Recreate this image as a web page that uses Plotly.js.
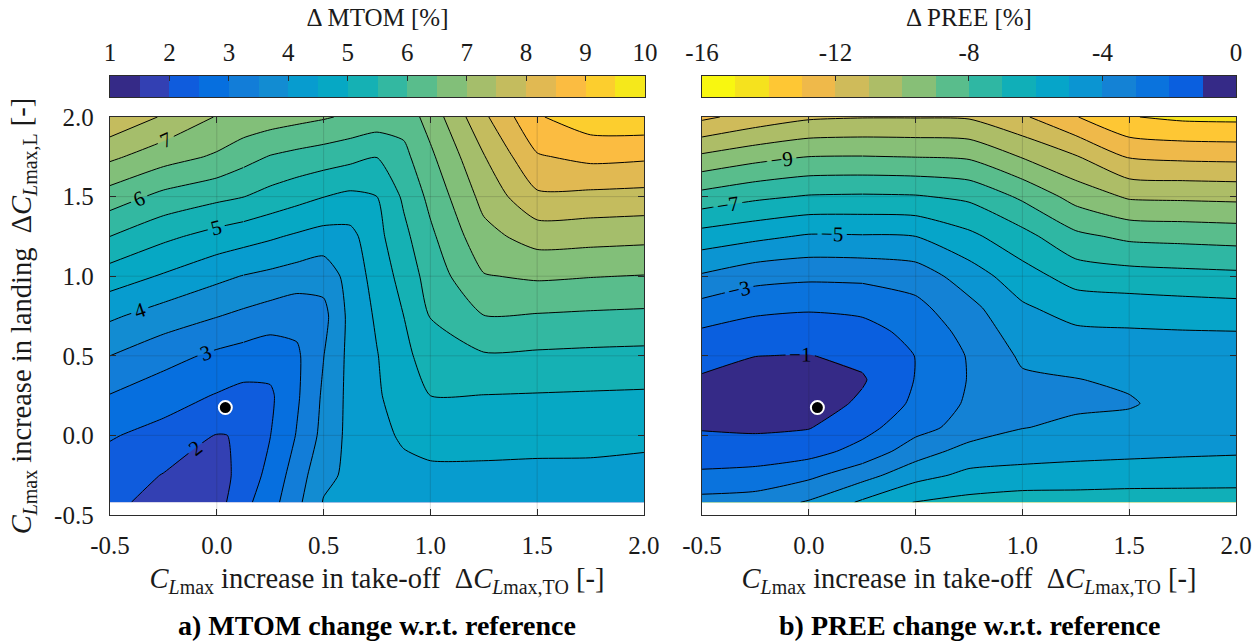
<!DOCTYPE html>
<html><head><meta charset="utf-8">
<script src="https://cdn.plot.ly/plotly-3.0.1.min.js"></script>
<style>html,body{margin:0;padding:0;background:#fff}</style>
</head><body><div id="chart" style="width:1260px;height:643px"></div>
<script>
// ---------- data: a) MTOM change [%] ----------
const mtomX = [-0.5,-0.25,0,0.125,0.25,0.375,0.5,0.625,0.75,0.875,1.0,1.25,1.5,1.75,2.0];
const mtomY = [-0.42,-0.25,0,0.25,0.5,0.75,1.0,1.25,1.5,1.75,2.0];
const mtomZ = [
  [2.1, 1.85, 1.8, 2.35, 2.8, 3.37, 4.03, 4.1, 4.2, 4.3, 4.35, 4.35, 4.35, 4.35, 4.35],
  [2.27, 1.98, 1.8, 2.17, 2.66, 3.24, 3.88, 4.1, 4.25, 4.4, 4.42, 4.42, 4.42, 4.43, 4.42],
  [2.54, 2.34, 1.98, 2.03, 2.49, 3.03, 3.65, 4.15, 4.4, 4.55, 4.64, 4.64, 4.61, 4.59, 4.56],
  [2.98, 2.71, 2.47, 2.35, 2.42, 2.93, 3.58, 4.15, 4.45, 4.70, 5.0, 4.99, 4.97, 4.95, 4.93],
  [3.5, 3.18, 2.90, 2.80, 2.71, 2.92, 3.49, 4.15, 4.48, 4.85, 5.27, 5.45, 5.42, 5.39, 5.37],
  [4.08, 3.77, 3.52, 3.39, 3.26, 3.15, 3.35, 4.15, 4.57, 5.0, 5.52, 5.99, 5.96, 5.92, 5.89],
  [4.76, 4.45, 4.12, 3.98, 3.88, 3.77, 3.68, 4.2, 4.7, 5.18, 5.71, 6.47, 6.57, 6.52, 6.48],
  [5.5, 5.11, 4.82, 4.70, 4.57, 4.43, 4.31, 4.35, 4.85, 5.37, 5.90, 6.84, 7.21, 7.18, 7.14],
  [6.27, 5.86, 5.62, 5.51, 5.33, 5.17, 5.01, 4.89, 5.0, 5.58, 6.13, 7.16, 7.91, 7.87, 7.83],
  [7.1, 6.71, 6.43, 6.18, 5.97, 5.85, 5.75, 5.64, 5.51, 5.86, 6.40, 7.47, 8.45, 8.63, 8.58],
  [7.9, 7.45, 6.97, 6.85, 6.75, 6.65, 6.55, 6.42, 6.3, 6.2, 6.7, 7.9, 8.95, 9.3, 9.35]
];
const mtomLevels = [1,1.5,2,2.5,3,3.5,4,4.5,5,5.5,6,6.5,7,7.5,8,8.5,9,9.5,10];
// ---------- data: b) PREE change [%] (one list per take-off column) ----------
const preeX = [-0.5,-0.25,0,0.25,0.5,0.75,1.0,1.25,1.5,1.75,2.0];
const preeY = [-0.42,-0.25,-0.1,0.05,0.2,0.35,0.5,0.65,0.8,1.0,1.25,1.5,1.75,2.0];
const preeCols = [
  [-3.35,-2.17,-1.49,-0.92,-0.7,-0.88,-1.35,-1.88,-2.62,-3.88,-5.57,-7.64,-9.81,-12.2],
  [-3.45,-2.33,-1.43,-0.85,-0.55,-0.7,-1.01,-1.58,-2.22,-3.35,-5.23,-7.2,-9.33,-11.6],
  [-4.1,-2.77,-1.63,-0.95,-0.5,-0.55,-0.97,-1.51,-2.1,-3.2,-4.89,-6.92,-8.99,-11.15],
  [-5.15,-3.62,-2.34,-1.65,-1.17,-0.9,-1.23,-1.68,-2.2,-3.23,-4.92,-6.87,-8.96,-11.05],
  [-6.05,-4.63,-3.53,-2.64,-2.19,-2.04,-2.02,-2.26,-2.71,-3.45,-5.0,-6.92,-9.02,-11.05],
  [-6.3,-5.24,-4.38,-3.4,-3.15,-3.05,-3.08,-3.36,-3.71,-4.49,-5.77,-7.2,-9.13,-11.1],
  [-6.5,-5.34,-4.59,-3.97,-3.75,-3.85,-4.16,-4.5,-4.85,-5.58,-6.66,-8.18,-10.06,-11.85],
  [-6.5,-5.4,-4.71,-4.18,-3.85,-3.97,-4.4,-4.83,-5.43,-6.41,-7.77,-9.37,-10.92,-12.95],
  [-6.55,-5.46,-4.78,-4.35,-3.9,-4.16,-4.53,-4.9,-5.51,-6.58,-8.21,-10.13,-12.08,-13.95],
  [-6.55,-5.49,-4.85,-4.55,-4.4,-4.45,-4.7,-4.95,-5.6,-6.68,-8.3,-10.19,-12.21,-14.2],
  [-6.55,-5.52,-4.9,-4.65,-4.5,-4.55,-4.75,-4.98,-5.68,-6.76,-8.39,-10.25,-12.26,-14.25]
];
const preeLevels = [-16,-15,-14,-13,-12,-11,-10,-9,-8,-7,-6,-5,-4,-3,-2,-1,0];
// reference configuration marker
const refX = [0.04];
const refY = [0.175];
// ticks
const axisTickVals = [-0.5, 0, 0.5, 1.0, 1.5, 2.0];
const axisTickText = ['-0.5', '0.0', '0.5', '1.0', '1.5', '2.0'];
const gridVals = [0, 0.5, 1.0, 1.5];
const mtomTickVals = [1,2,3,4,5,6,7,8,9,10];
const mtomTickText = ['1','2','3','4','5','6','7','8','9','10'];
const preeTickVals = [-16,-12,-8,-4,0];
const preeTickText = ['-16','-12','-8','-4','0'];

// ---------- styling ----------
const FONT = '"Liberation Serif", "Times New Roman", serif';
const INK = '#1a1a1a';
const AX = '#2b2b2b';
const mtomColors = ['#352a87','#3340b3','#0f5cdd','#066fdf','#127dd8','#128cd2','#079ccf','#06a8c4','#15b1b4',
  '#33b8a1','#59bd8c','#82bf79','#a5be6b','#c4bc5e','#e1b952','#fbbc41','#fcce2e','#f5e81b'];
const preeColors = ['#f8f710','#f5e21e','#fec734','#efb94a','#cfbb5a','#adbd67','#87bf77','#59bd8c',
  '#2fb7a3','#10afb8','#06a5c9','#0b95d2','#1482d5','#0a73dd','#0a5fdf','#352a87'];
function bandScale(cols){
  const n = cols.length, s = [[0, cols[0]]];
  cols.forEach((c,i)=> s.push([(i+0.5)/n, c]));
  s.push([1, cols[n-1]]);
  return s;
}
const preeZ = preeY.map((_, j) => preeCols.map(col => col[j]));
// sub-grids: the labelled lines are drawn only where the reference prints labels
const sliceCols = (z, a, b) => z.map(r => r.slice(a, b));
const mtomLabX = mtomX.slice(0, 4), mtomLabZ = sliceCols(mtomZ, 0, 4);
const mtomRestX = mtomX.slice(3),  mtomRestZ = sliceCols(mtomZ, 3);
const preeLabX = preeX.slice(0, 4), preeLabY = preeY.slice(5), preeLabZ = sliceCols(preeZ.slice(5), 0, 4);
const preeLowX = preeX.slice(0, 4), preeLowY = preeY.slice(0, 6), preeLowZ = sliceCols(preeZ.slice(0, 6), 0, 4);
const preeRestX = preeX.slice(3), preeRestZ = sliceCols(preeZ, 3);

const smooth = 0.6;
const lblFont = {family:FONT, size:21, color:'#000'};
function lines(x, y, z, xa, ya, start, end, size, labels){
  return {type:'contour', x:x, y:y, z:z, xaxis:xa, yaxis:ya, autocontour:false, showscale:false,
    contours:{start:start, end:end, size:size, coloring:'none', showlabels:!!labels, labelfont:lblFont},
    line:{color:'#000', width:1, smoothing:smooth}, hoverinfo:'skip'};
}
function mids(levels){ return levels.slice(0,-1).map((v,i)=>(v+levels[i+1])/2); }

const traces = [
  {type:'contour', x:mtomX, y:mtomY, z:mtomZ, xaxis:'x', yaxis:'y', zmin:1, zmax:10, autocontour:false,
   contours:{start:1, end:10, size:0.5, coloring:'fill', showlines:false}, showscale:false,
   colorscale:bandScale(mtomColors), line:{width:0, smoothing:smooth}, hoverinfo:'skip'},
  lines(mtomX, mtomY, mtomZ, 'x', 'y', 1.5, 9.5, 1, false),
  lines(mtomLabX, mtomY, mtomLabZ, 'x', 'y', 2, 7, 1, true),
  lines(mtomRestX, mtomY, mtomRestZ, 'x', 'y', 2, 9, 1, false),
  {type:'contour', x:preeX, y:preeY, z:preeZ, xaxis:'x2', yaxis:'y2', zmin:-16, zmax:0, autocontour:false,
   contours:{start:-16, end:0, size:1, coloring:'fill', showlines:false}, showscale:false,
   colorscale:bandScale(preeColors), line:{width:0, smoothing:smooth}, hoverinfo:'skip'},
  lines(preeX, preeY, preeZ, 'x2', 'y2', -16, -2, 2, false),
  lines(preeX, preeY, preeZ, 'x2', 'y2', -15, -11, 2, false),
  lines(preeLabX, preeLabY, preeLabZ, 'x2', 'y2', -9, -1, 2, true),
  lines(preeLowX, preeLowY, preeLowZ, 'x2', 'y2', -9, -1, 2, false),
  lines(preeRestX, preeY, preeRestZ, 'x2', 'y2', -9, -1, 2, false),
  {type:'scatter', mode:'markers', x:refX, y:refY, xaxis:'x', yaxis:'y', hoverinfo:'skip',
   marker:{size:13, color:'#000', line:{color:'#fff', width:2}}},
  {type:'scatter', mode:'markers', x:refX, y:refY, xaxis:'x2', yaxis:'y2', hoverinfo:'skip',
   marker:{size:13, color:'#000', line:{color:'#fff', width:2}}},
  // colour bars
  {type:'heatmap', x:mtomLevels, y:[0,1], z:[mids(mtomLevels)], xaxis:'x3', yaxis:'y3', zmin:1, zmax:10,
   colorscale:bandScale(mtomColors), showscale:false, hoverinfo:'skip'},
  {type:'heatmap', x:preeLevels, y:[0,1], z:[mids(preeLevels)], xaxis:'x4', yaxis:'y4', zmin:-16, zmax:0,
   colorscale:bandScale(preeColors), showscale:false, hoverinfo:'skip'}
];

function axis(extra){
  return Object.assign({range:[-0.5,2], tickmode:'array', tickvals:axisTickVals, ticktext:axisTickText,
    ticks:'inside', ticklen:6, tickwidth:1, tickcolor:AX, showline:true, linecolor:AX, linewidth:1.3,
    mirror:'ticks', showgrid:false, zeroline:false, fixedrange:true,
    tickfont:{family:FONT, size:25, color:INK}}, extra);
}
function cbAxis(range, tv, tt, title, dom){
  return {domain:dom, range:range, side:'top', tickmode:'array', tickvals:tv, ticktext:tt,
    ticks:'inside', ticklen:5, tickwidth:1, tickcolor:AX, showline:true, linecolor:AX, linewidth:1.3,
    mirror:true, showgrid:false, zeroline:false, fixedrange:true, ticklabelstandoff:4,
    tickfont:{family:FONT, size:25, color:INK},
    title:{text:title, standoff:5, font:{family:FONT, size:25, color:INK}}};
}
function cbYAxis(){
  return {domain:[0.95216,1], range:[0,1], showticklabels:false, ticks:'', showline:true, linecolor:AX,
    linewidth:1.3, mirror:true, showgrid:false, zeroline:false, fixedrange:true};
}
const sub = t => '<sub><i>L</i>' + t + '</sub>';
const xTitle = '<i>C</i>' + sub('max') + ' increase in take-off \u00a0\u0394<i>C</i>' + sub('max,TO') + ' [-]';
const yTitle = '<i>C</i>' + sub('max') + ' increase in landing \u00a0\u0394<i>C</i>' + sub('max,L') + ' [-]';
const TITLE_FONT = {family:FONT, size:28.5, color:INK};

const shapes = [];
[['x','y'],['x2','y2']].forEach(([xr, yr]) => {
  gridVals.forEach(v => {
    shapes.push({type:'line', xref:xr, yref:yr, x0:v, x1:v, y0:-0.5, y1:2, layer:'above',
      line:{color:'rgba(30,30,30,0.16)', width:1}});
    shapes.push({type:'line', xref:xr, yref:yr, x0:-0.5, x1:2, y0:v, y1:v, layer:'above',
      line:{color:'rgba(30,30,30,0.16)', width:1}});
  });
});

const MAIN = [0, 0.90661];
const layout = {
  width:1260, height:643, margin:{l:110, r:24, t:76, b:128, autoexpand:false},
  paper_bgcolor:'#fff', plot_bgcolor:'#fff', showlegend:false,
  font:{family:FONT, size:25, color:INK},
  xaxis:axis({domain:[0,0.4742], anchor:'y', ticklabelstandoff:8,
    title:{text:xTitle, standoff:9, font:TITLE_FONT}}),
  yaxis:axis({domain:MAIN, anchor:'x', ticklabelstandoff:10,
    title:{text:yTitle, standoff:14, font:TITLE_FONT}}),
  xaxis2:axis({domain:[0.5258,1], anchor:'y2', ticklabelstandoff:8,
    title:{text:xTitle, standoff:9, font:TITLE_FONT}}),
  yaxis2:axis({domain:MAIN, anchor:'x2', showticklabels:false}),
  xaxis3:Object.assign(cbAxis([1,10], mtomTickVals, mtomTickText, '\u0394 MTOM [%]', [0,0.47513]), {anchor:'y3'}),
  yaxis3:Object.assign(cbYAxis(), {anchor:'x3'}),
  xaxis4:Object.assign(cbAxis([-16,0], preeTickVals, preeTickText, '\u0394 PREE [%]', [0.52575,1]), {anchor:'y4'}),
  yaxis4:Object.assign(cbYAxis(), {anchor:'x4'}),
  shapes:shapes,
  annotations:[
    {xref:'paper', yref:'paper', x:0.2371, y:-0.2528, xanchor:'center', yanchor:'middle', showarrow:false,
     text:'<b>a) MTOM change w.r.t. reference</b>', font:{family:FONT, size:28, color:'#000'}},
    {xref:'paper', yref:'paper', x:0.7633, y:-0.2528, xanchor:'center', yanchor:'middle', showarrow:false,
     text:'<b>b) PREE change w.r.t. reference</b>', font:{family:FONT, size:28, color:'#000'}}
  ]
};
Plotly.newPlot('chart', traces, layout, {displayModeBar:false, staticPlot:true});
</script></body></html>
